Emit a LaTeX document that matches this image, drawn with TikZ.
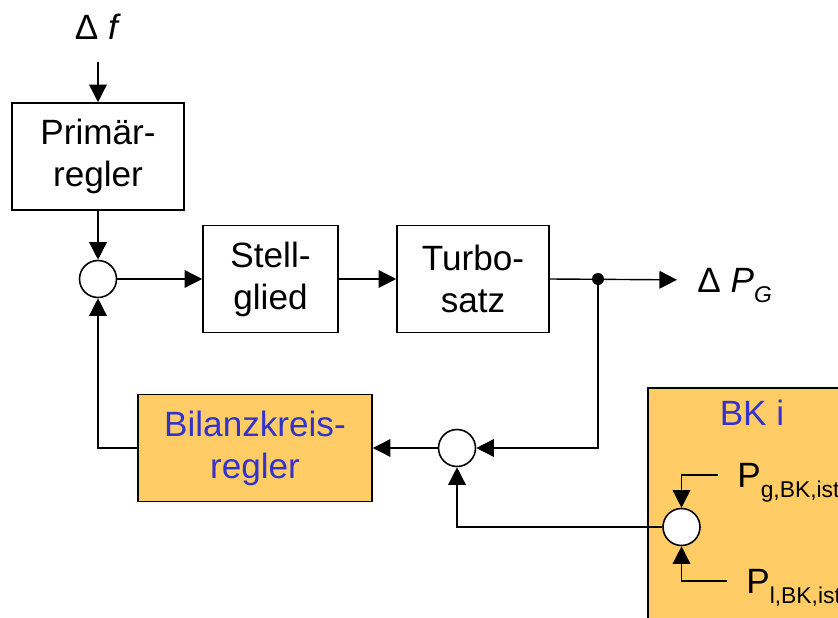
\documentclass[tikz,border=0pt]{standalone}
\usepackage{fontspec}
\setmainfont{Liberation Sans}
\usetikzlibrary{arrows.meta, positioning, calc}
\definecolor{BoxOrange}{rgb}{1, 0.8, 0.4}
\definecolor{LabelBlue}{rgb}{0.2, 0.2, 0.8}
\newcommand{\lowsub}[2]{\raisebox{#1}[0pt][0pt]{\fontsize{13}{13}\selectfont #2}}

\begin{document}
\begin{tikzpicture}[
    x=0.02cm, y=-0.02cm,
    font=\fontsize{20}{24}\selectfont,
    block/.style={draw, line width=0.9pt, align=center, inner sep=0pt,
        minimum width=#1, minimum height=2.14cm},
    block/.default=2.7cm,
    ctrl/.style={block=#1, fill=BoxOrange, text=LabelBlue},
    panel/.style={draw, line width=0.9pt, fill=BoxOrange},
    sumpt/.style={circle, draw, line width=0.9pt, fill=white,
        minimum size=0.74cm, inner sep=0pt},
    lbl/.style={inner sep=0pt, anchor=west},
    arr/.style={-{Triangle[length=10pt, width=10pt]}, line width=0.8pt}
]
\clip (0,0) rectangle (838,618);

% forward path
\node (df) at (98,27) {Δ \textit{f}};
\node[block=3.44cm] (prim) at (98,156.5) {Primär-\\regler};
\node[sumpt] (sum1) at (98,279) {};
\node[block] (stell) at (270.5,279) {Stell-\\glied};
\node[block=3.04cm] (turbo) at (473,279) {Turbo-\\satz};
\coordinate (branch) at (598,279);
\node[lbl] (dpg) at (697,280) {Δ \textit{P}\lowsub{-5.7pt}{\textit{G}}};

% feedback path
\node[sumpt] (sum2) at (457,448) {};
\node[ctrl=4.68cm] (bkr) at (255,448) {Bilanzkreis-\\regler};

% balancing group
\draw[panel] (648,388) rectangle (860,640);
\node[text=LabelBlue] (bki) at (752,413) {BK i};
\node[sumpt] (sum3) at (681.5,527) {};
\node[lbl] (pg) at (737,475) {P\lowsub{-6pt}{g,BK,ist}};
\node[lbl] (pl) at (746,581) {P\lowsub{-6pt}{l,BK,ist}};

\draw[arr, shorten <=9pt] (df.south) -- (prim.north);
\draw[arr] (prim) -- (sum1);
\draw[arr] (sum1) -- (stell);
\draw[arr] (stell) -- (turbo);
\draw[arr, shorten >=0.4cm] (turbo.east) -- (dpg.west);
\fill (branch) circle (6);
\draw[arr] (branch) |- (sum2);
\draw[arr] (sum2) -- (bkr);
\draw[arr] (bkr.west) -| (sum1);
\draw[arr] (sum3) -| (sum2);
\draw[arr, shorten <=0.38cm] (pg.west) -| (sum3);
\draw[arr, shorten <=0.38cm] (pl.west) -| (sum3);

\end{tikzpicture}
\end{document}
